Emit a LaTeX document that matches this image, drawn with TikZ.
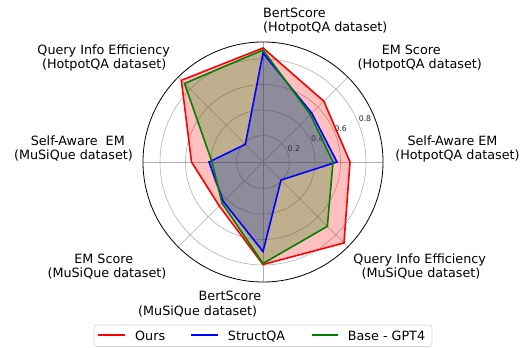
\documentclass[tikz,border=0pt]{standalone}
\usepackage{fontspec}
\setmainfont{DejaVu Sans}
\definecolor{mpred}{rgb}{1,0,0}
\definecolor{mpblue}{rgb}{0,0,1}
\definecolor{mpgreen}{rgb}{0,0.5,0}
\definecolor{gridc}{RGB}{176,176,176}
\definecolor{legc}{RGB}{214,214,214}
\begin{document}
\begin{tikzpicture}[x=1bp,y=1bp,
  lab/.style={font=\fontsize{12.8}{14}\selectfont, inner sep=0pt, anchor=base},
  ticklab/.style={font=\fontsize{7.8}{9}\selectfont, inner sep=0pt, text=black!85},
  gridline/.style={draw=gridc, line width=0.6bp},
  series/.style={line width=1.6bp, line join=miter},
  legline/.style={line width=1.8bp, line cap=butt},
  areafill/.style={fill opacity=0.25},
]
\useasboundingbox (0,0) rectangle (524,347);
\begin{scope}[shift={(263,185)}]
  \coordinate (C) at (0,0);
  \foreach \r in {26.5,52,77.5,103} \draw[gridline] (C) circle[radius=\r];
  \foreach \a in {0,45,...,315} \draw[gridline] (C) -- (\a:120);
  \draw[black, line width=0.8bp] (C) circle[radius=120];
  \node[ticklab] (t2) at (30.8,13.7) {0.2};
  \node[ticklab] (t4) at (54.3,23.7) {0.4};
  \node[ticklab] (t6) at (77.7,33.7) {0.6};
  \node[ticklab] (t8) at (102,43.7) {0.8};
  % fills
  \fill[mpred, areafill] (90:114) -- (45:86) -- (0:87) -- (-45:114.5) -- (-90:102.5) -- (-135:62) -- (180:71.5) -- (135:115.5) -- cycle;
  \fill[mpblue, areafill] (90:109) -- (45:69) -- (0:74) -- (-45:25.5) -- (-90:89.5) -- (-135:56) -- (180:54) -- (135:25) -- cycle;
  \fill[mpgreen, areafill] (90:112) -- (45:67) -- (0:70) -- (-45:91) -- (-90:101.5) -- (-135:58) -- (180:51) -- (135:111) -- cycle;
  % lines
  \draw[mpred, series] (90:114) -- (45:86) -- (0:87) -- (-45:114.5) -- (-90:102.5) -- (-135:62) -- (180:71.5) -- (135:115.5) -- cycle;
  \draw[mpblue, series] (90:109) -- (45:69) -- (0:74) -- (-45:25.5) -- (-90:89.5) -- (-135:56) -- (180:54) -- (135:25) -- cycle;
  \draw[mpgreen, series] (90:112) -- (45:67) -- (0:70) -- (-45:91) -- (-90:101.5) -- (-135:58) -- (180:51) -- (135:111) -- cycle;
\end{scope}
% axis labels
\node[lab, anchor=base west] (l1a) at (263,329.7) {BertScore};
\node[lab, anchor=base west] (l1b) at (263,315.5) {(HotpotQA dataset)};
\node[lab] (l2a) at (411.2,292.5) {EM Score};
\node[lab] (l2b) at (419.8,278.2) {(HotpotQA dataset)};
\node[lab] (l3a) at (452.5,201.5) {Self-Aware EM};
\node[lab] (l3b) at (457.5,187.5) {(HotpotQA dataset)};
\node[lab] (l4a) at (419.7,83.5) {Query Info Efficiency};
\node[lab] (l4b) at (421,69.2) {(MuSiQue dataset)};
\node[lab] (l5a) at (230,46.5) {BertScore};
\node[lab] (l5b) at (197.7,31.8) {(MuSiQue dataset)};
\node[lab] (l6a) at (103.8,83.8) {EM Score};
\node[lab] (l6b) at (107,69.2) {(MuSiQue dataset)};
\node[lab] (l7a) at (77.8,201.5) {Self-Aware\ \ EM};
\node[lab] (l7b) at (73.5,187.2) {(MuSiQue dataset)};
\node[lab] (l8a) at (103.7,292.5) {Query Info Efficiency};
\node[lab] (l8b) at (104.2,278.2) {(HotpotQA dataset)};
% legend
\filldraw[draw=legc, fill=white, line width=0.8bp, rounded corners=2.5bp] (94,0.5) rectangle (432,22);
\coordinate (r1) at (98.3,11.7); \coordinate (r2) at (125,11.7);
\coordinate (b1) at (191,11.7); \coordinate (b2) at (218.3,11.7);
\coordinate (g1) at (311.7,11.7); \coordinate (g2) at (338.3,11.7);
\draw[draw=mpred, legline] (r1) -- (r2);
\draw[draw=mpblue, legline] (b1) -- (b2);
\draw[draw=mpgreen, legline] (g1) -- (g2);
\node[lab, anchor=base west] (lg1) at (135,6.7) {Ours};
\node[lab, anchor=base west] (lg2) at (227.7,6.7) {StructQA};
\node[lab, anchor=base west] (lg3) at (347.7,6.7) {Base - GPT4};
\end{tikzpicture}
\end{document}
